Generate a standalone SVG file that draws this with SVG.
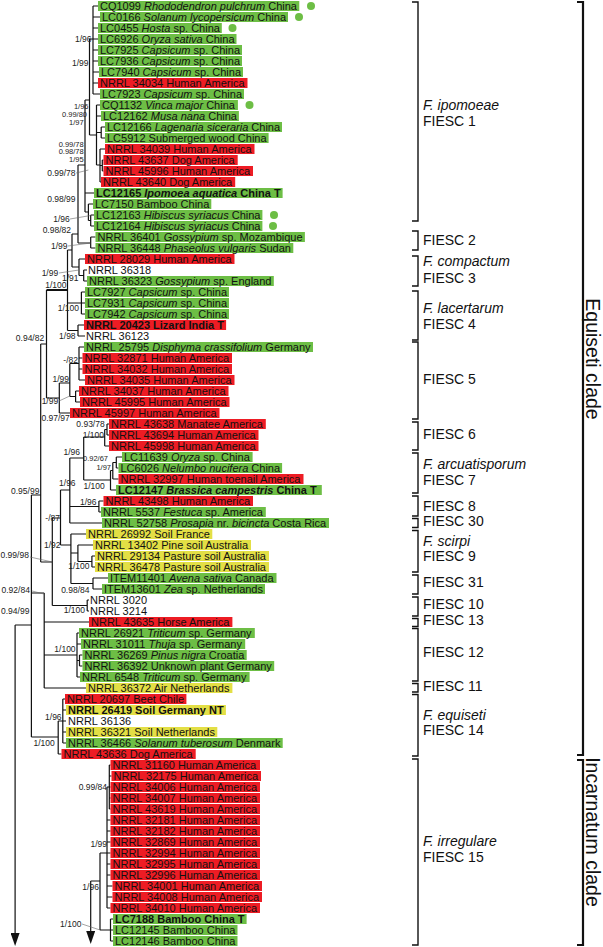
<svg xmlns="http://www.w3.org/2000/svg" width="603" height="947" viewBox="0 0 603 947">
<style>
text{font-family:"Liberation Sans",Arial,sans-serif;fill:#111}
.t{font-size:11px}
.b{font-weight:bold}
.i{font-style:italic}
.s{font-size:8.5px;fill:#222;text-anchor:end}
.sl{font-size:8.5px;fill:#222}
.ss{font-size:7.5px}
.L{font-size:14px}
.C{font-size:19.5px}
.g{fill:#6dbe45}
.r{fill:#ed1c24}
.y{fill:#e3df45}
.tree{stroke:#111;stroke-width:1.2;fill:none}
.ptr{stroke:#666;stroke-width:0.6;fill:none}
.br{stroke:#111;stroke-width:1.4;fill:none}
.bb{stroke:#111;stroke-width:2.2;fill:none}
</style>
<defs>
<marker id="ah" viewBox="0 0 13 9" refX="0" refY="4.5" markerWidth="13" markerHeight="9" markerUnits="userSpaceOnUse" orient="auto"><path d="M0,0 L13,4.5 L0,9 z" fill="#111"/></marker>
</defs>

<g id="connectors">
<path class="tree" d="M93 6V94 M93 6H98 M93 17H100 M93 28H98 M93 39H98 M93 50H98 M93 61H98 M93 72H99 M93 83H98 M93 94H100
M96.5 105V165 M96.5 105H100 M96.5 116H101 M96.5 132.5H101.2 M96.5 165H100
M101.2 127V138 M101.2 127H105 M101.2 138H105
M100 149V182 M100 149H105 M100 165.5H102.3 M100 182H101
M102.3 160V171 M102.3 160H103.5 M102.3 171H103.5
M89.5 39V135 M89.5 39H93 M89.5 135H96.5
M85 100V212 M85 100H89.5 M85 193H94 M85 212H88.4
M88.4 204V220.5 M88.4 204H93 M88.4 220.5H90.7
M90.7 215V226 M90.7 215H94 M90.7 226H94
M90.7 237V248 M90.7 237H95.5 M90.7 248H95.5
M78 165V243 M78 165H85 M78 243H90.7
M83.7 270V281 M83.7 270H87 M83.7 281H87
M79 259V275.5 M79 259H85 M79 275.5H83.7
M72 234V267 M72 234H78 M72 267H79
M67.5 250V330.5 M67.5 250H72 M67.5 303H81.4 M67.5 330.5H78
M81.4 292V314 M81.4 292H85 M81.4 303H85 M81.4 314H85
M78 325V336 M78 325H84 M78 336H85
M46.5 290V398 M46.5 398H59.3
M40.7 344V562 M40.7 344H46.5 M40.7 562H52.3
M79 347V380 M79 347H84 M79 358H82.5 M79 369H82.5 M79 380H85
M75.6 391V402 M75.6 391H79 M75.6 402H80
M69.8 363.5V396.5 M69.8 363.5H79 M69.8 396.5H75.6
M59.3 383V413 M59.3 383H69.8 M59.3 413H70
M107 424V435 M107 424H109 M107 435H109
M104.7 429.5V446 M104.7 429.5H107 M104.7 446H109
M116.3 457V468 M116.3 457H122 M116.3 468H118.5
M112.8 462.5V479 M112.8 462.5H116.3 M112.8 479H118.5
M110.5 470.5V490 M110.5 470.5H112.8 M110.5 490H116
M83.7 437V480 M83.7 437H104.7 M83.7 480H110.5
M98.9 501V512 M98.9 501H103.5 M98.9 512H101
M69.8 458V523 M69.8 458H83.7 M69.8 506.5H98.9 M69.8 523H102
M60.5 490V545 M60.5 490H69.8 M60.5 545H70.9
M70.9 534V583.5 M70.9 534H86 M70.9 553H77.9 M70.9 583.5H93
M77.9 545V561.5 M77.9 545H93 M77.9 561.5H91.9
M91.9 556V567 M91.9 556H95 M91.9 567H95
M93 578V589 M93 578H108 M93 589H102
M87.2 600V611 M87.2 600H89 M87.2 611H89
M52.3 518V605.5 M52.3 518H60.5 M52.3 605.5H87.2
M44.2 593V688 M31.4 593H44.2 M44.2 622H89 M44.2 655H77 M44.2 688H86
M77 633V677 M77 633H79 M77 644H81 M77 660.5H79.5 M77 677H80
M79.5 655V666 M79.5 655H82.5 M79.5 666H82.5
M62.8 699V743 M62.8 699H65 M62.8 710H66 M62.8 721H66 M62.8 732H66 M62.8 743H66
M58.2 721V754 M58.2 721H62.8 M58.2 754H61.5 M31.4 737H58.2
M31.4 495V737 M31.4 495H40.7
M15.1 625H31.4
M109.3 765V809 M109.3 765H110.5 M109.3 776H111.5 M109.3 787H110.5 M109.3 798H110.5 M109.3 809H110.5
M107 787V908 M107 787H109.3 M107 820H110.5 M107 831H110.5 M107 842H110.5 M107 853H110.5 M107 864H110.5 M107 875H110.5 M107 886H112.5 M107 897H112.5 M107 908H110.5
M110.5 919V941 M110.5 919H113 M110.5 930H113 M110.5 941H113
M100 853V930 M100 853H107 M100 930H110.5
M90.7 881H100"/>
<path class="tree" style="stroke-width:2" d="M46.5 290H67.5"/>
<path class="tree" d="M15.1 625V933" marker-end="url(#ah)"/>
<path class="tree" d="M90.7 881V931" marker-end="url(#ah)"/>
<path class="ptr" d="M76 173L88.4 170 M70 219L90.7 215.5 M68 246L90.7 243 M59 273L79 270 M59 401L69.8 396 M30 557L52.3 562 M32 591L44 594 M82 924L100 930"/>
</g>

<g id="leaves">
<g id="leaf-CQ1099"><rect class="g" x="98" y="1" width="201.3" height="10"/><text class="t" x="100" y="10">CQ1099 <tspan class="i">Rhododendron pulchrum</tspan> China</text><circle class="g" cx="311" cy="6" r="4"/></g>
<g id="leaf-LC0166"><rect class="g" x="100" y="12" width="188" height="10"/><text class="t" x="102" y="21">LC0166 <tspan class="i">Solanum lycopersicum</tspan> China</text><circle class="g" cx="299" cy="17" r="4"/></g>
<g id="leaf-LC0455"><rect class="g" x="98" y="23" width="123.8" height="10"/><text class="t" x="100" y="32">LC0455 <tspan class="i">Hosta</tspan> sp. China</text><circle class="g" cx="232.5" cy="28" r="4"/></g>
<g id="leaf-LC6926"><rect class="g" x="98" y="34" width="138.5" height="10"/><text class="t" x="100" y="43">LC6926 <tspan class="i">Oryza sativa</tspan> China</text></g>
<g id="leaf-LC7925"><rect class="g" x="98" y="45" width="144" height="10"/><text class="t" x="100" y="54">LC7925 <tspan class="i">Capsicum</tspan> sp. China</text></g>
<g id="leaf-LC7936"><rect class="g" x="98" y="56" width="144" height="10"/><text class="t" x="100" y="65">LC7936 <tspan class="i">Capsicum</tspan> sp. China</text></g>
<g id="leaf-LC7940"><rect class="g" x="99" y="67" width="144" height="10"/><text class="t" x="101" y="76">LC7940 <tspan class="i">Capsicum</tspan> sp. China</text></g>
<g id="leaf-NRRL34034"><rect class="r" x="98" y="78" width="149.5" height="10"/><text class="t" x="100" y="87">NRRL 34034 Human America</text></g>
<g id="leaf-LC7923"><rect class="g" x="100" y="89" width="144" height="10"/><text class="t" x="102" y="98">LC7923 <tspan class="i">Capsicum</tspan> sp. China</text></g>
<g id="leaf-CQ1132"><rect class="g" x="100" y="100" width="137.9" height="10"/><text class="t" x="102" y="109">CQ1132 <tspan class="i">Vinca major</tspan> China</text><circle class="g" cx="249.5" cy="105" r="4"/></g>
<g id="leaf-LC12162"><rect class="g" x="101" y="111" width="137.9" height="10"/><text class="t" x="103" y="120">LC12162 <tspan class="i">Musa nana</tspan> China</text></g>
<g id="leaf-LC12166"><rect class="g" x="105" y="122" width="177" height="10"/><text class="t" x="107" y="131">LC12166 <tspan class="i">Lagenaria siceraria</tspan> China</text></g>
<g id="leaf-LC5912"><rect class="g" x="105" y="133" width="163.6" height="10"/><text class="t" x="107" y="142">LC5912 Submerged wood China</text></g>
<g id="leaf-NRRL34039"><rect class="r" x="105" y="144" width="149.5" height="10"/><text class="t" x="107" y="153">NRRL 34039 Human America</text></g>
<g id="leaf-NRRL43637"><rect class="r" x="103.5" y="155" width="134.2" height="10"/><text class="t" x="105.5" y="164">NRRL 43637 Dog America</text></g>
<g id="leaf-NRRL45996"><rect class="r" x="103.5" y="166" width="149.5" height="10"/><text class="t" x="105.5" y="175">NRRL 45996 Human America</text></g>
<g id="leaf-NRRL43640"><rect class="r" x="101" y="177" width="134.2" height="10"/><text class="t" x="103" y="186">NRRL 43640 Dog America</text></g>
<g id="leaf-LC12165"><rect class="g" x="94" y="188" width="188.6" height="10"/><text class="t b" x="96" y="197">LC12165 <tspan class="i">Ipomoea aquatica</tspan> China T</text></g>
<g id="leaf-LC7150"><rect class="g" x="93" y="199" width="118.3" height="10"/><text class="t" x="95" y="208">LC7150 Bamboo China</text></g>
<g id="leaf-LC12163"><rect class="g" x="94" y="210" width="168.4" height="10"/><text class="t" x="96" y="219">LC12163 <tspan class="i">Hibiscus syriacus</tspan> China</text><circle class="g" cx="274" cy="215" r="4"/></g>
<g id="leaf-LC12164"><rect class="g" x="94" y="221" width="168.4" height="10"/><text class="t" x="96" y="230">LC12164 <tspan class="i">Hibiscus syriacus</tspan> China</text><circle class="g" cx="273" cy="226" r="4"/></g>
<g id="leaf-NRRL36401"><rect class="g" x="95.5" y="232" width="209.4" height="10"/><text class="t" x="97.5" y="241">NRRL 36401 <tspan class="i">Gossypium</tspan> sp. Mozambique</text></g>
<g id="leaf-NRRL36448"><rect class="g" x="95.5" y="243" width="197.8" height="10"/><text class="t" x="97.5" y="252">NRRL 36448 <tspan class="i">Phaseolus vulgaris</tspan> Sudan</text></g>
<g id="leaf-NRRL28029"><rect class="r" x="85" y="254" width="149.5" height="10"/><text class="t" x="87" y="263">NRRL 28029 Human America</text></g>
<g id="leaf-NRRL36318"><text class="t" x="88" y="274">NRRL 36318</text></g>
<g id="leaf-NRRL36323"><rect class="g" x="87" y="276" width="186.8" height="10"/><text class="t" x="89" y="285">NRRL 36323 <tspan class="i">Gossypium</tspan> sp. England</text></g>
<g id="leaf-LC7927"><rect class="g" x="85" y="287" width="144" height="10"/><text class="t" x="87" y="296">LC7927 <tspan class="i">Capsicum</tspan> sp. China</text></g>
<g id="leaf-LC7931"><rect class="g" x="85" y="298" width="144" height="10"/><text class="t" x="87" y="307">LC7931 <tspan class="i">Capsicum</tspan> sp. China</text></g>
<g id="leaf-LC7942"><rect class="g" x="85" y="309" width="144" height="10"/><text class="t" x="87" y="318">LC7942 <tspan class="i">Capsicum</tspan> sp. China</text></g>
<g id="leaf-NRRL20423"><rect class="r" x="84" y="320" width="142.1" height="10"/><text class="t b" x="86" y="329">NRRL 20423 Lizard India T</text></g>
<g id="leaf-NRRL36123"><text class="t" x="86" y="340">NRRL 36123</text></g>
<g id="leaf-NRRL25795"><rect class="g" x="84" y="342" width="229" height="10"/><text class="t" x="86" y="351">NRRL 25795 <tspan class="i">Disphyma crassifolium</tspan> Germany</text></g>
<g id="leaf-NRRL32871"><rect class="r" x="82.5" y="353" width="149.5" height="10"/><text class="t" x="84.5" y="362">NRRL 32871 Human America</text></g>
<g id="leaf-NRRL34032"><rect class="r" x="82.5" y="364" width="149.5" height="10"/><text class="t" x="84.5" y="373">NRRL 34032 Human America</text></g>
<g id="leaf-NRRL34035"><rect class="r" x="85" y="375" width="149.5" height="10"/><text class="t" x="87" y="384">NRRL 34035 Human America</text></g>
<g id="leaf-NRRL34037"><rect class="r" x="79" y="386" width="149.5" height="10"/><text class="t" x="81" y="395">NRRL 34037 Human America</text></g>
<g id="leaf-NRRL45995"><rect class="r" x="80" y="397" width="149.5" height="10"/><text class="t" x="82" y="406">NRRL 45995 Human America</text></g>
<g id="leaf-NRRL45997"><rect class="r" x="70" y="408" width="149.5" height="10"/><text class="t" x="72" y="417">NRRL 45997 Human America</text></g>
<g id="leaf-NRRL43638"><rect class="r" x="109" y="419" width="156.8" height="10"/><text class="t" x="111" y="428">NRRL 43638 Manatee America</text></g>
<g id="leaf-NRRL43694"><rect class="r" x="109" y="430" width="149.5" height="10"/><text class="t" x="111" y="439">NRRL 43694 Human America</text></g>
<g id="leaf-NRRL45998"><rect class="r" x="109" y="441" width="149.5" height="10"/><text class="t" x="111" y="450">NRRL 45998 Human America</text></g>
<g id="leaf-LC11639"><rect class="g" x="122" y="452" width="130.6" height="10"/><text class="t" x="124" y="461">LC11639 <tspan class="i">Oryza</tspan> sp. China</text></g>
<g id="leaf-LC6026"><rect class="g" x="118.5" y="463" width="163.6" height="10"/><text class="t" x="120.5" y="472">LC6026 <tspan class="i">Nelumbo nucifera</tspan> China</text></g>
<g id="leaf-NRRL32997"><rect class="r" x="118.5" y="474" width="185" height="10"/><text class="t" x="120.5" y="483">NRRL 32997 Human toenail America</text></g>
<g id="leaf-LC12147"><rect class="g" x="116" y="485" width="205.8" height="10"/><text class="t b" x="118" y="494">LC12147 <tspan class="i">Brassica campestris</tspan> China T</text></g>
<g id="leaf-NRRL43498"><rect class="r" x="103.5" y="496" width="149.5" height="10"/><text class="t" x="105.5" y="505">NRRL 43498 Human America</text></g>
<g id="leaf-NRRL5537"><rect class="g" x="101" y="507" width="164.8" height="10"/><text class="t" x="103" y="516">NRRL 5537 <tspan class="i">Festuca</tspan> sp. America</text></g>
<g id="leaf-NRRL52758"><rect class="g" x="102" y="518" width="227" height="10"/><text class="t" x="104" y="527">NRRL 52758 <tspan class="i">Prosapia</tspan> nr. <tspan class="i">bicincta</tspan> Costa Rica</text></g>
<g id="leaf-NRRL26992"><rect class="y" x="86" y="529" width="126.3" height="10"/><text class="t" x="88" y="538">NRRL 26992 Soil France</text></g>
<g id="leaf-NRRL13402"><rect class="y" x="93" y="540" width="158" height="10"/><text class="t" x="95" y="549">NRRL 13402 Pine soil Australia</text></g>
<g id="leaf-NRRL29134"><rect class="y" x="95" y="551" width="174" height="10"/><text class="t" x="97" y="560">NRRL 29134 Pasture soil Australia</text></g>
<g id="leaf-NRRL36478"><rect class="y" x="95" y="562" width="174" height="10"/><text class="t" x="97" y="571">NRRL 36478 Pasture soil Australia</text></g>
<g id="leaf-ITEM11401"><rect class="g" x="108" y="573" width="168.5" height="10"/><text class="t" x="110" y="582">ITEM11401 <tspan class="i">Avena sativa</tspan> Canada</text></g>
<g id="leaf-ITEM13601"><rect class="g" x="102" y="584" width="163" height="10"/><text class="t" x="104" y="593">ITEM13601 <tspan class="i">Zea</tspan> sp. Netherlands</text></g>
<g id="leaf-NRRL3020"><text class="t" x="90" y="604">NRRL 3020</text></g>
<g id="leaf-NRRL3214"><text class="t" x="90" y="615">NRRL 3214</text></g>
<g id="leaf-NRRL43635"><rect class="r" x="89" y="617" width="143.4" height="10"/><text class="t" x="91" y="626">NRRL 43635 Horse America</text></g>
<g id="leaf-NRRL26921"><rect class="g" x="79" y="628" width="175.8" height="10"/><text class="t" x="81" y="637">NRRL 26921 <tspan class="i">Triticum</tspan> sp. Germany</text></g>
<g id="leaf-NRRL31011"><rect class="g" x="81" y="639" width="164.2" height="10"/><text class="t" x="83" y="648">NRRL 31011 <tspan class="i">Thuja</tspan> sp. Germany</text></g>
<g id="leaf-NRRL36269"><rect class="g" x="82.5" y="650" width="164.2" height="10"/><text class="t" x="84.5" y="659">NRRL 36269 <tspan class="i">Pinus nigra</tspan> Croatia</text></g>
<g id="leaf-NRRL36392"><rect class="g" x="82.5" y="661" width="191.7" height="10"/><text class="t" x="84.5" y="670">NRRL 36392 Unknown plant Germany</text></g>
<g id="leaf-NRRL6548"><rect class="g" x="80" y="672" width="169.6" height="10"/><text class="t" x="82" y="681">NRRL 6548 <tspan class="i">Triticum</tspan> sp. Germany</text></g>
<g id="leaf-NRRL36372"><rect class="y" x="86" y="683" width="146.4" height="10"/><text class="t" x="88" y="692">NRRL 36372 Air Netherlands</text></g>
<g id="leaf-NRRL20697"><rect class="r" x="65" y="694" width="121.4" height="10"/><text class="t" x="67" y="703">NRRL 20697 Beet Chile</text></g>
<g id="leaf-NRRL26419"><rect class="y" x="66" y="705" width="159.9" height="10"/><text class="t b" x="68" y="714">NRRL 26419 Soil Germany NT</text></g>
<g id="leaf-NRRL36136"><text class="t" x="68" y="725">NRRL 36136</text></g>
<g id="leaf-NRRL36321"><rect class="y" x="66" y="727" width="151.3" height="10"/><text class="t" x="68" y="736">NRRL 36321 Soil Netherlands</text></g>
<g id="leaf-NRRL36466"><rect class="g" x="66" y="738" width="216.7" height="10"/><text class="t" x="68" y="747">NRRL 36466 <tspan class="i">Solanum tuberosum</tspan> Denmark</text></g>
<g id="leaf-NRRL43636"><rect class="r" x="61.5" y="749" width="134.2" height="10"/><text class="t" x="63.5" y="758">NRRL 43636 Dog America</text></g>
<g id="leaf-NRRL31160"><rect class="r" x="110.5" y="760" width="149.5" height="10"/><text class="t" x="112.5" y="769">NRRL 31160 Human America</text></g>
<g id="leaf-NRRL32175"><rect class="r" x="111.5" y="771" width="149.5" height="10"/><text class="t" x="113.5" y="780">NRRL 32175 Human America</text></g>
<g id="leaf-NRRL34006"><rect class="r" x="110.5" y="782" width="149.5" height="10"/><text class="t" x="112.5" y="791">NRRL 34006 Human America</text></g>
<g id="leaf-NRRL34007"><rect class="r" x="110.5" y="793" width="149.5" height="10"/><text class="t" x="112.5" y="802">NRRL 34007 Human America</text></g>
<g id="leaf-NRRL43619"><rect class="r" x="110.5" y="804" width="149.5" height="10"/><text class="t" x="112.5" y="813">NRRL 43619 Human America</text></g>
<g id="leaf-NRRL32181"><rect class="r" x="110.5" y="815" width="149.5" height="10"/><text class="t" x="112.5" y="824">NRRL 32181 Human America</text></g>
<g id="leaf-NRRL32182"><rect class="r" x="110.5" y="826" width="149.5" height="10"/><text class="t" x="112.5" y="835">NRRL 32182 Human America</text></g>
<g id="leaf-NRRL32869"><rect class="r" x="110.5" y="837" width="149.5" height="10"/><text class="t" x="112.5" y="846">NRRL 32869 Human America</text></g>
<g id="leaf-NRRL32994"><rect class="r" x="110.5" y="848" width="149.5" height="10"/><text class="t" x="112.5" y="857">NRRL 32994 Human America</text></g>
<g id="leaf-NRRL32995"><rect class="r" x="110.5" y="859" width="149.5" height="10"/><text class="t" x="112.5" y="868">NRRL 32995 Human America</text></g>
<g id="leaf-NRRL32996"><rect class="r" x="110.5" y="870" width="149.5" height="10"/><text class="t" x="112.5" y="879">NRRL 32996 Human America</text></g>
<g id="leaf-NRRL34001"><rect class="r" x="112.5" y="881" width="149.5" height="10"/><text class="t" x="114.5" y="890">NRRL 34001 Human America</text></g>
<g id="leaf-NRRL34008"><rect class="r" x="112.5" y="892" width="149.5" height="10"/><text class="t" x="114.5" y="901">NRRL 34008 Human America</text></g>
<g id="leaf-NRRL34010"><rect class="r" x="110.5" y="903" width="149.5" height="10"/><text class="t" x="112.5" y="912">NRRL 34010 Human America</text></g>
<g id="leaf-LC7188"><rect class="g" x="113" y="914" width="133.6" height="10"/><text class="t b" x="115" y="923">LC7188 Bamboo China T</text></g>
<g id="leaf-LC12145"><rect class="g" x="113" y="925" width="124.5" height="10"/><text class="t" x="115" y="934">LC12145 Bamboo China</text></g>
<g id="leaf-LC12146"><rect class="g" x="113" y="936" width="124.5" height="10"/><text class="t" x="115" y="945">LC12146 Bamboo China</text></g>
</g>

<g id="support">
<text class="s" x="91.5" y="42">1/96</text>
<text class="s" x="88.5" y="66">1/99</text>
<text class="s ss" x="88.5" y="109">1/96</text>
<text class="s ss" x="87" y="117">0.99/80</text>
<text class="s ss" x="83.7" y="125">1/97</text>
<text class="s ss" x="83.7" y="146.5">0.99/78</text>
<text class="s ss" x="83.7" y="154">0.98/78</text>
<text class="s ss" x="83.7" y="162">1/95</text>
<text class="s" x="75.6" y="176">0.99/78</text>
<text class="s" x="75.6" y="202">0.98/99</text>
<text class="s" x="69.8" y="222">1/96</text>
<text class="s" x="71" y="233">0.98/82</text>
<text class="s" x="67.5" y="249">1/99</text>
<text class="s" x="58.2" y="276">1/99</text>
<text class="s" x="78.5" y="281">1/91</text>
<text class="s" x="66.5" y="288">1/100</text>
<text class="s" x="79" y="311">1/100</text>
<text class="s" x="75.6" y="339">1/98</text>
<text class="s" x="44.2" y="341">0.94/82</text>
<text class="s" x="78" y="363">-/82</text>
<text class="s" x="69" y="382">1/99</text>
<text class="s" x="58.2" y="404">1/99</text>
<text class="s" x="69.8" y="421">0.97/97</text>
<text class="s" x="104.7" y="427">0.93/78</text>
<text class="s" x="104" y="438">1/100</text>
<text class="s" x="80" y="455">1/96</text>
<text class="s ss" x="108" y="461">0.92/67</text>
<text class="s ss" x="111" y="469.5">1/97</text>
<text class="s" x="75.6" y="486">1/96</text>
<text class="s" x="104.7" y="489">1/100</text>
<text class="sl" x="11" y="494">0.95/99</text>
<text class="s" x="96.5" y="505">1/96</text>
<text class="s" x="60" y="521">-/87</text>
<text class="s" x="60.5" y="548">1/92</text>
<text class="sl" x="0.5" y="558">0.99/98</text>
<text class="s" x="89.5" y="569">1/100</text>
<text class="s" x="89.5" y="593">0.98/84</text>
<text class="sl" x="1.5" y="593">0.92/84</text>
<text class="s" x="85" y="613">1/100</text>
<text class="sl" x="1" y="614">0.94/99</text>
<text class="s" x="75.6" y="652">1/100</text>
<text class="s" x="61.6" y="720">1/96</text>
<text class="s" x="54.7" y="746">1/100</text>
<text class="s" x="107" y="790">0.99/84</text>
<text class="s" x="107" y="847">1/99</text>
<text class="s" x="98.9" y="890">1/96</text>
<text class="s" x="81.4" y="927">1/100</text>
</g>

<g id="groups">
<g id="g-fiesc1"><path class="br" d="M412 2H418V221H412"/><text class="L i" x="423" y="110">F. ipomoeae</text><text class="L" x="423" y="126">FIESC 1</text></g>
<g id="g-fiesc2"><path class="br" d="M412 231H418V250H412"/><text class="L" x="423" y="245">FIESC 2</text></g>
<g id="g-fiesc3"><path class="br" d="M412 256H418V286H412"/><text class="L i" x="423" y="266">F. compactum</text><text class="L" x="423" y="283">FIESC 3</text></g>
<g id="g-fiesc4"><path class="br" d="M412 291H418V340H412"/><text class="L i" x="423" y="313">F. lacertarum</text><text class="L" x="423" y="329">FIESC 4</text></g>
<g id="g-fiesc5"><path class="br" d="M412 342H418V419H412"/><text class="L" x="423" y="384">FIESC 5</text></g>
<g id="g-fiesc6"><path class="br" d="M412 422H418V450H412"/><text class="L" x="423" y="439">FIESC 6</text></g>
<g id="g-fiesc7"><path class="br" d="M412 453H418V493H412"/><text class="L i" x="423" y="469">F. arcuatisporum</text><text class="L" x="423" y="485">FIESC 7</text></g>
<g id="g-fiesc8"><path class="br" d="M412 496H418V516H412"/><text class="L" x="423" y="511">FIESC 8</text></g>
<g id="g-fiesc30"><path class="br" d="M412 518.5H418V527.5H412"/><text class="L" x="423" y="526">FIESC 30</text></g>
<g id="g-fiesc9"><path class="br" d="M412 530.5H418V572H412"/><text class="L i" x="423" y="546">F. scirpi</text><text class="L" x="423" y="561">FIESC 9</text></g>
<g id="g-fiesc31"><path class="br" d="M412 575H418V594H412"/><text class="L" x="423" y="587">FIESC 31</text></g>
<g id="g-fiesc10"><path class="br" d="M412 597H418V616H412"/><text class="L" x="423" y="609">FIESC 10</text></g>
<g id="g-fiesc13"><path class="br" d="M412 618.5H418V626.5H412"/><text class="L" x="423" y="625">FIESC 13</text></g>
<g id="g-fiesc12"><path class="br" d="M412 628.5H418V681H412"/><text class="L" x="423" y="657">FIESC 12</text></g>
<g id="g-fiesc11"><path class="br" d="M412 683.5H418V692H412"/><text class="L" x="423" y="691">FIESC 11</text></g>
<g id="g-fiesc14"><path class="br" d="M412 694.5H418V756H412"/><text class="L i" x="423" y="720">F. equiseti</text><text class="L" x="423" y="735">FIESC 14</text></g>
<g id="g-fiesc15"><path class="br" d="M412 759H418V945H412"/><text class="L i" x="423" y="846">F. irregulare</text><text class="L" x="423" y="862">FIESC 15</text></g>
<g id="g-equiseti"><path class="bb" d="M577 2H583V755H577"/><text class="C" text-anchor="middle" transform="translate(586,359) rotate(90)">Equiseti clade</text></g>
<g id="g-incarnatum"><path class="bb" d="M577 760H583V945H577"/><text class="C" text-anchor="middle" transform="translate(586,832) rotate(90)">Incarnatum clade</text></g>
</g>
</svg>
